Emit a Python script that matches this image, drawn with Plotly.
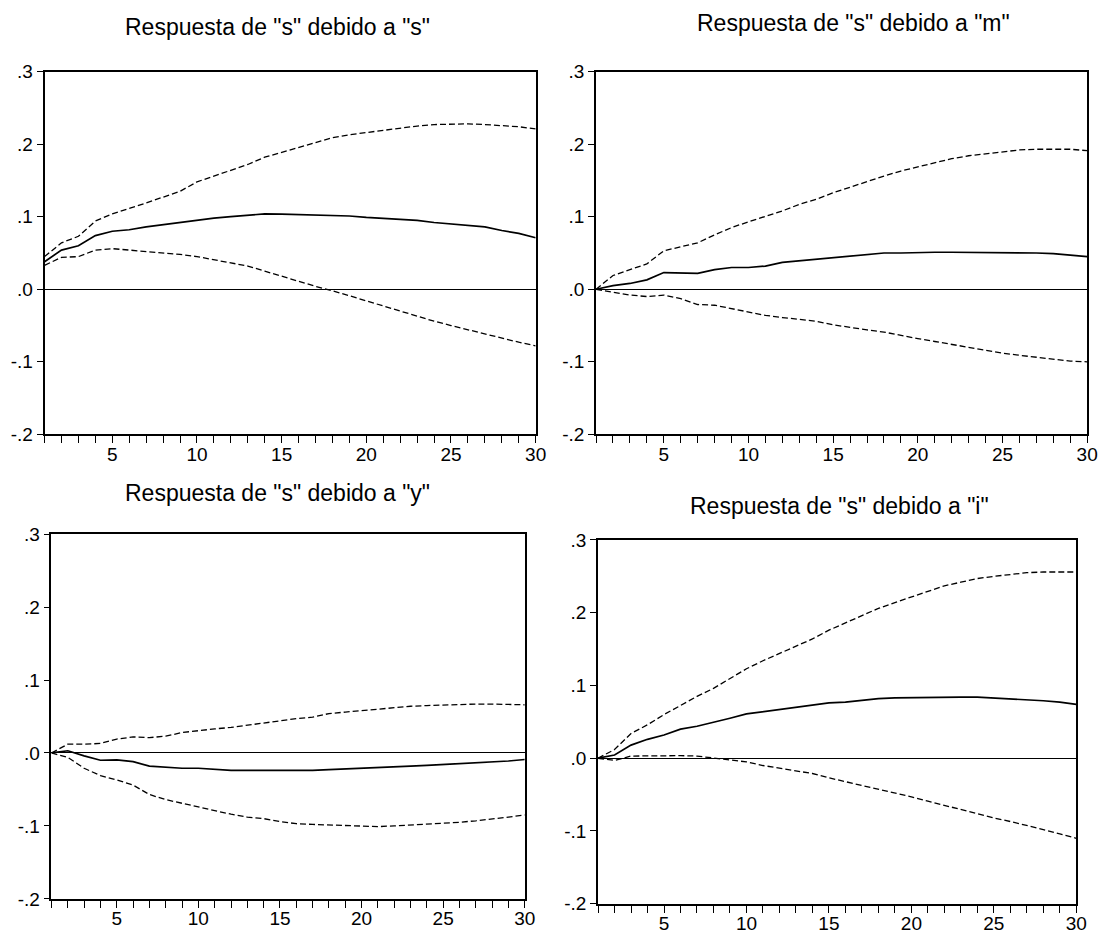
import plotly.graph_objects as go

W, H = 1116, 947

periods = list(range(1, 31))

titles = ['Respuesta de "s" debido a "s"', 'Respuesta de "s" debido a "m"',
          'Respuesta de "s" debido a "y"', 'Respuesta de "s" debido a "i"']

ytick_vals = [-0.2, -0.1, 0.0, 0.1, 0.2, 0.3]
ytick_text = ["-.2", "-.1", ".0", ".1", ".2", ".3"]
xtick_vals = [5, 10, 15, 20, 25, 30]
xtick_text = ["5", "10", "15", "20", "25", "30"]

# Panel 1: s -> s
ss_resp = [0.038, 0.054, 0.060, 0.074, 0.080, 0.082, 0.086, 0.089, 0.092, 0.096,
           0.098, 0.100, 0.102, 0.104, 0.1035, 0.103, 0.103, 0.102, 0.101, 0.099,
           0.098, 0.096, 0.095, 0.092, 0.090, 0.088, 0.086, 0.081, 0.077, 0.071]
ss_up = [0.045, 0.064, 0.073, 0.094, 0.104, 0.111, 0.119, 0.127, 0.135, 0.148,
         0.156, 0.163, 0.172, 0.182, 0.189, 0.196, 0.203, 0.209, 0.213, 0.216,
         0.220, 0.223, 0.225, 0.227, 0.228, 0.228, 0.227, 0.226, 0.224, 0.221]
ss_lo = [0.033, 0.044, 0.045, 0.054, 0.056, 0.054, 0.053, 0.051, 0.048, 0.045,
         0.041, 0.036, 0.032, 0.025, 0.018, 0.010, 0.004, -0.002, -0.009, -0.017,
         -0.023, -0.030, -0.037, -0.044, -0.050, -0.056, -0.062, -0.068, -0.073, -0.078]

# Panel 2: s -> m
sm_resp = [0.0, 0.005, 0.008, 0.013, 0.023, 0.023, 0.022, 0.027, 0.030, 0.030,
           0.032, 0.037, 0.039, 0.041, 0.044, 0.046, 0.048, 0.050, 0.050, 0.051,
           0.051, 0.051, 0.051, 0.051, 0.051, 0.0505, 0.050, 0.049, 0.047, 0.045]
sm_up = [0.0, 0.019, 0.027, 0.035, 0.053, 0.059, 0.064, 0.075, 0.085, 0.093,
         0.100, 0.108, 0.117, 0.124, 0.133, 0.141, 0.149, 0.156, 0.163, 0.169,
         0.175, 0.180, 0.184, 0.187, 0.190, 0.192, 0.193, 0.193, 0.193, 0.191]
sm_lo = [0.0, -0.004, -0.008, -0.010, -0.008, -0.013, -0.021, -0.022, -0.027, -0.032,
         -0.036, -0.039, -0.041, -0.044, -0.049, -0.053, -0.056, -0.059, -0.064, -0.068,
         -0.072, -0.076, -0.080, -0.084, -0.088, -0.091, -0.094, -0.096, -0.099, -0.100]

# Panel 3: s -> y
sy_resp = [0.0, 0.003, -0.004, -0.010, -0.0095, -0.012, -0.018, -0.020, -0.021, -0.021,
           -0.023, -0.024, -0.024, -0.024, -0.024, -0.025, -0.024, -0.023, -0.022, -0.0215,
           -0.021, -0.019, -0.018, -0.017, -0.016, -0.015, -0.013, -0.012, -0.011, -0.009]
sy_up = [0.0, 0.012, 0.012, 0.013, 0.019, 0.022, 0.021, 0.023, 0.028, 0.031,
         0.033, 0.035, 0.038, 0.042, 0.045, 0.047, 0.049, 0.054, 0.056, 0.058,
         0.061, 0.063, 0.064, 0.065, 0.066, 0.067, 0.067, 0.067, 0.067, 0.066]
sy_lo = [0.0, -0.006, -0.021, -0.031, -0.037, -0.044, -0.057, -0.064, -0.069, -0.074,
         -0.080, -0.084, -0.088, -0.090, -0.094, -0.097, -0.098, -0.099, -0.100, -0.101,
         -0.101, -0.100, -0.099, -0.098, -0.097, -0.095, -0.093, -0.091, -0.088, -0.085]

# Panel 4: s -> i
si_resp = [0.0, 0.0045, 0.018, 0.026, 0.032, 0.040, 0.044, 0.049, 0.055, 0.061,
           0.064, 0.068, 0.071, 0.074, 0.076, 0.077, 0.080, 0.082, 0.083, 0.0835,
           0.084, 0.0845, 0.084, 0.084, 0.083, 0.082, 0.080, 0.079, 0.077, 0.074]
si_up = [0.0, 0.012, 0.034, 0.046, 0.060, 0.073, 0.085, 0.096, 0.109, 0.123,
         0.134, 0.144, 0.154, 0.164, 0.176, 0.186, 0.196, 0.206, 0.214, 0.222,
         0.230, 0.237, 0.242, 0.247, 0.250, 0.253, 0.255, 0.256, 0.256, 0.256]
si_lo = [0.0, -0.003, 0.003, 0.0035, 0.003, 0.0035, 0.003, 0.0, -0.002, -0.005,
         -0.010, -0.014, -0.017, -0.021, -0.027, -0.032, -0.037, -0.042, -0.047, -0.053,
         -0.059, -0.065, -0.071, -0.076, -0.082, -0.087, -0.092, -0.098, -0.104, -0.110]

panels = [
    (ss_resp, ss_up, ss_lo),
    (sm_resp, sm_up, sm_lo),
    (sy_resp, sy_up, sy_lo),
    (si_resp, si_up, si_lo),
]

# pixel boxes: left, right, top, bottom
boxes = [(45, 541, 63, 434), (602, 1098, 63, 434), (52, 530, 536, 909), (604, 1087, 542, 914)]
title_pos = [(280, 17), (862, 13), (280, 494), (848, 507)]

fig = go.Figure()
FONT = "Liberation Sans, Arial, sans-serif"

for i, ((resp, up, lo), (l, r, t, b)) in enumerate(zip(panels, boxes)):
    n = "" if i == 0 else str(i + 1)
    xa, ya = "x" + n, "y" + n
    for series, dash, w in ((up, "6px,3px", 1.3), (lo, "6px,3px", 1.3), (resp, "solid", 1.7)):
        fig.add_trace(go.Scatter(x=periods, y=series, mode="lines", xaxis=xa, yaxis=ya,
                                 line=dict(color="black", width=w, dash=dash),
                                 showlegend=False, hoverinfo="skip"))
    fig.layout["xaxis" + n] = dict(
        domain=[l / W, r / W], anchor=ya, range=[1, 30],
        tickmode="array", tickvals=xtick_vals, ticktext=xtick_text,
        ticks="outside", ticklen=7, tickwidth=1, tickcolor="black",
        minor=dict(ticks="outside", ticklen=7, tickwidth=1, tickcolor="black", tick0=1, dtick=1),
        showline=True, linecolor="black", linewidth=1.6, mirror=True,
        showgrid=False, zeroline=False, ticklabelstandoff=-5,
        tickfont=dict(family=FONT, size=19, color="black"),
    )
    fig.layout["yaxis" + n] = dict(
        domain=[1 - b / H, 1 - t / H], anchor=xa, range=[-0.2, 0.3],
        tickmode="array", tickvals=ytick_vals, ticktext=ytick_text,
        ticks="outside", ticklen=6, tickwidth=1, tickcolor="black",
        showline=True, linecolor="black", linewidth=1.6, mirror=True,
        showgrid=False, zeroline=True, zerolinecolor="black", zerolinewidth=1,
        tickfont=dict(family=FONT, size=19, color="black"),
    )
    tx, ty = title_pos[i]
    fig.add_annotation(text=titles[i], x=tx / W, y=1 - ty / H, xref="paper", yref="paper",
                       xanchor="center", yanchor="middle", showarrow=False,
                       font=dict(family=FONT, size=23, color="black"))

fig.update_layout(width=W, height=H, margin=dict(l=0, r=0, t=0, b=0),
                  paper_bgcolor="white", plot_bgcolor="white")

fig.write_html("out.html")
